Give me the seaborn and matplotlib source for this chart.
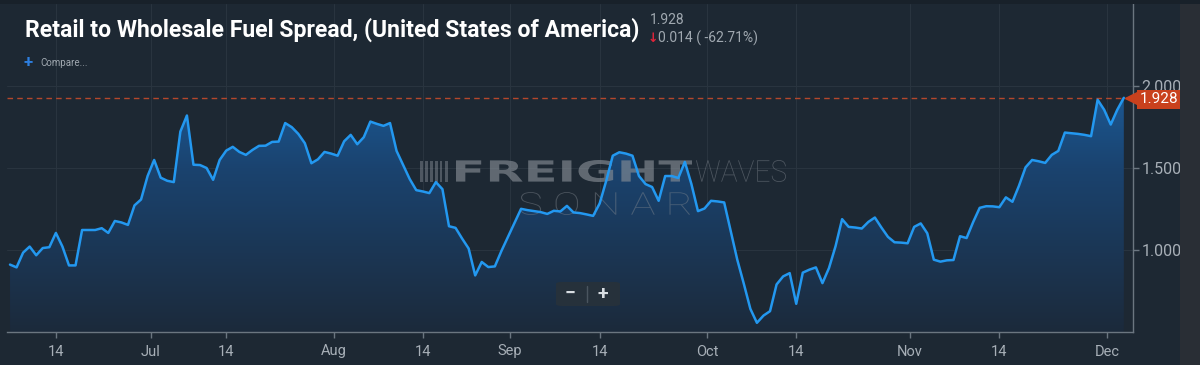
import numpy as np
import pandas as pd
import seaborn as sns
import matplotlib.pyplot as plt
import matplotlib.colors as mcolors
from matplotlib.patches import Rectangle, FancyBboxPatch, PathPatch
from matplotlib.textpath import TextPath
from matplotlib.font_manager import FontProperties
from matplotlib.transforms import Affine2D, blended_transform_factory

# values, one per sample
spread = [
    0.911, 0.894, 0.984, 1.021, 0.968, 1.012, 1.017, 1.104, 1.021, 0.906,
    0.906, 1.122, 1.122, 1.122, 1.133, 1.104, 1.177, 1.168, 1.153, 1.272,
    1.308, 1.451, 1.549, 1.441, 1.422, 1.414, 1.722, 1.820, 1.520, 1.518,
    1.500, 1.428, 1.549, 1.606, 1.629, 1.598, 1.580, 1.610, 1.635, 1.636,
    1.659, 1.661, 1.774, 1.749, 1.708, 1.651, 1.529, 1.553, 1.598, 1.588,
    1.575, 1.663, 1.702, 1.645, 1.688, 1.783, 1.769, 1.757, 1.774, 1.604,
    1.518, 1.433, 1.365, 1.357, 1.347, 1.414, 1.371, 1.145, 1.135, 1.070,
    1.009, 0.845, 0.927, 0.896, 0.900, 0.994, 1.080, 1.165, 1.251, 1.243,
    1.237, 1.231, 1.220, 1.239, 1.235, 1.269, 1.229, 1.225, 1.217, 1.208,
    1.284, 1.422, 1.575, 1.596, 1.588, 1.575, 1.451, 1.402, 1.384, 1.300,
    1.451, 1.451, 1.439, 1.537, 1.402, 1.237, 1.253, 1.300, 1.296, 1.290,
    1.116, 0.941, 0.794, 0.641, 0.556, 0.600, 0.627, 0.790, 0.839, 0.859,
    0.672, 0.862, 0.880, 0.894, 0.798, 0.890, 1.023, 1.188, 1.141, 1.137,
    1.131, 1.171, 1.198, 1.137, 1.080, 1.047, 1.045, 1.041, 1.141, 1.162,
    1.102, 0.941, 0.929, 0.937, 0.939, 1.084, 1.073, 1.170, 1.257, 1.267,
    1.266, 1.261, 1.321, 1.294, 1.392, 1.504, 1.549, 1.541, 1.531, 1.580,
    1.604, 1.716, 1.712, 1.708, 1.702, 1.694, 1.916, 1.855, 1.765, 1.855,
    1.928,
]
tick_pos = [7.0, 21.5, 33.0, 49.4, 63.0, 76.3, 90.0, 106.4, 119.9, 137.3, 150.9, 167.4]
tick_labels = ["14", "Jul", "14", "Aug", "14", "Sep", "14", "Oct", "14", "Nov", "14", "Dec"]
y_ticks = [1.0, 1.5, 2.0]
title = "Retail to Wholesale Fuel Spread, (United States of America)"
last_value = 1.928
change = 0.014
change_pct = -62.71

df = pd.DataFrame({"sample": np.arange(len(spread)), "spread": spread})

bg = "#1d2833"
grid_c = "#29343f"
axis_c = "#6b7680"
label_c = "#a7afb7"

sns.set_theme(style="dark")
plt.rcParams["font.family"] = ["Roboto", "DejaVu Sans"]

W, H = 1200, 365
fig = plt.figure(figsize=(12, 3.65), dpi=100, facecolor=bg)
ax = fig.add_axes([7 / W, 1 - 332 / H, (1133 - 7) / W, (332 - 4) / H])
ax.set_facecolor(bg)

xmin, xmax = -0.46, 171.4
ymin, ymax = 0.5, 2.5

# gradient area under the line
cmap = mcolors.LinearSegmentedColormap.from_list(
    "fill", [(0, "#1c2a3b"), (0.5, "#1a436f"), (0.75, "#1c5a96"), (1, "#1e66aa")])
grad = np.linspace(0, 1, 256).reshape(-1, 1)
im = ax.imshow(grad, aspect="auto", cmap=cmap, origin="lower",
               extent=[xmin, xmax, ymin, ymax], zorder=1)
area = ax.fill_between(df["sample"], df["spread"], ymin, color="none", lw=0)
im.set_clip_path(area.get_paths()[0], transform=ax.transData)

sns.lineplot(data=df, x="sample", y="spread", color="#2398f0", lw=1.8, ax=ax, zorder=3)

ax.axhline(last_value, color="#b4472c", ls=(0, (4, 3)), lw=1, zorder=2)

ax.set_xlim(xmin, xmax)
ax.set_ylim(ymin, ymax)
ax.set_xticks(tick_pos)
ax.set_xticklabels(tick_labels)
ax.set_yticks(y_ticks)
ax.set_yticklabels(["{:.3f}".format(v) for v in y_ticks])
ax.yaxis.tick_right()
ax.set_xlabel("")
ax.set_ylabel("")
ax.grid(True, color=grid_c, lw=0.8)
ax.tick_params(axis="x", colors=axis_c, labelcolor=label_c, labelsize=10.5,
               length=4, width=1, pad=5, direction="out", bottom=True)
ax.tick_params(axis="y", colors=axis_c, labelcolor=label_c, labelsize=11.5,
               length=4, width=1, pad=2, direction="out", right=True, left=False)
for s in ["top", "left"]:
    ax.spines[s].set_visible(False)
for s in ["bottom", "right"]:
    ax.spines[s].set_visible(True)
    ax.spines[s].set_color(axis_c)
    ax.spines[s].set_linewidth(1)

# last value badge on the right axis
bt = blended_transform_factory(ax.transAxes, ax.transData)
ax.plot([0.999], [last_value], marker="<", ms=10, color="#c9411d", transform=bt,
        clip_on=False, zorder=6)
ax.text(1.006, last_value - 0.01, "{:.3f}".format(last_value), transform=bt, ha="left",
        va="center", color="white", fontsize=11, zorder=7, clip_on=False,
        bbox=dict(boxstyle="square,pad=0.15", fc="#c9411d", ec="none"))

# frame strips
fig.patches.append(Rectangle((1180 / W, 0), 20 / W, 1, transform=fig.transFigure,
                             fc="#292e35", ec="none", zorder=5))
fig.patches.append(Rectangle((0, 1 - 4 / H), 1, 4 / H, transform=fig.transFigure,
                             fc="#18212a", ec="none", zorder=5))


# watermark
def watermark(text, x, y, w, h, family, weight, color, alpha):
    tp = TextPath((0, 0), text, size=100, prop=FontProperties(family=family, weight=weight))
    bb = tp.get_extents()
    tr = (Affine2D().translate(-bb.x0, -bb.y0).scale(w / bb.width, h / bb.height)
          .translate(x, H - y - h).scale(1 / W, 1 / H))
    p = PathPatch(tr.transform_path(tp), transform=fig.transFigure, fc=color, ec="none",
                  alpha=alpha, zorder=2.5, clip_on=False)
    ax.add_patch(p)


watermark("FREIGHT", 456, 160, 236, 22, "DejaVu Sans", "bold", "#858c94", 0.65)
watermark("WAVES", 696, 160, 90, 22, "Roboto", "light", "#80878f", 0.5)
watermark("S O N A R", 520, 192, 170, 23, "Roboto", "light", "#80878f", 0.45)
for i in range(6):
    ax.add_patch(Rectangle(((420 + i * 5) / W, 1 - 182 / H), 2.5 / W, 21 / H,
                           transform=fig.transFigure, fc="#80878f", alpha=0.5,
                           ec="none", zorder=2.5, clip_on=False))

# zoom buttons
ax.add_patch(FancyBboxPatch((556 / W, 1 - 306 / H), 64 / W, 24 / H,
                            boxstyle="round,pad=0,rounding_size=0.005",
                            transform=fig.transFigure, fc="#26313b", ec="none",
                            zorder=4, clip_on=False))
fig.text(570 / W, 1 - 294 / H, "\u2212", color="#d8dde2", fontsize=14, weight="bold",
         ha="center", va="center", zorder=6)
fig.text(603 / W, 1 - 294 / H, "+", color="#d8dde2", fontsize=14, weight="bold",
         ha="center", va="center", zorder=6)
fig.lines.append(plt.Line2D([587 / W, 587 / W], [1 - 286 / H, 1 - 302 / H],
                            transform=fig.transFigure, color="#4a555f", lw=1, zorder=6))

# header texts
fig.text(25 / W, 1 - 30 / H, title, color="white", fontsize=16.6, weight="bold",
         family=["Roboto", "DejaVu Sans"], va="center", zorder=6)
fig.text(650 / W, 1 - 20 / H, "{:.3f}".format(last_value), color="#a0a8b0",
         fontsize=10, va="center", zorder=6)
fig.text(648 / W, 1 - 38 / H, "\u2193", color="#e0243a", fontsize=9, weight="bold",
         family=["DejaVu Sans"], va="center", zorder=6)
fig.text(658 / W, 1 - 38 / H, "{:.3f} ( {:.2f}%)".format(change, change_pct),
         color="#a0a8b0", fontsize=10, va="center", zorder=6)
fig.text(24 / W, 1 - 63 / H, "+", color="#2d7fe0", fontsize=12, weight="bold",
         va="center", zorder=6)
fig.text(40 / W, 1 - 63 / H, "Compare...", color="#a0a8b0", fontsize=7,
         va="center", zorder=6)

fig.savefig("out.png", dpi=100, facecolor=bg)
